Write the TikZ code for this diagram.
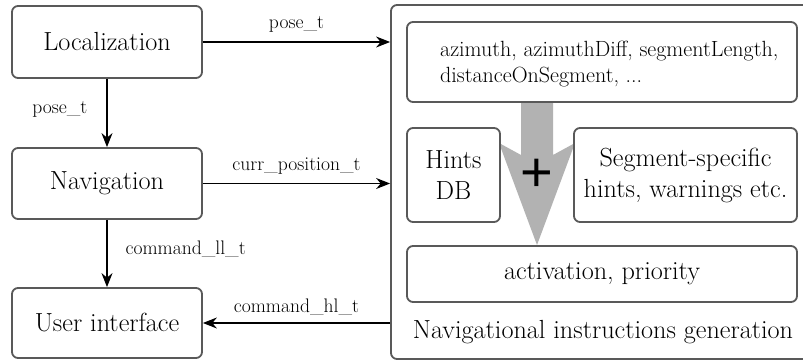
\documentclass[tikz,border=0pt]{standalone}
\usepackage{fontspec}
\newfontfamily\plusfont{Liberation Sans}
\usetikzlibrary{arrows.meta}
\begin{document}
\begin{tikzpicture}[x=1pt,y=-1pt,
 box/.style={draw=black!65, line width=1.8pt, rounded corners=6pt, fill=white, inner sep=0pt, align=center, font=\fontsize{26.2}{31}\selectfont},
 conn/.style={line width=1.2pt, -{Stealth[length=14pt,width=11pt]}},
 lbl/.style={font=\fontsize{19.6}{24}\selectfont, inner sep=0pt},
 attrtxt/.style={font=\fontsize{22}{26}\selectfont, inner sep=0pt, align=left},
 flow/.style={fill=black!30, draw=none}]
\useasboundingbox (0,0) rectangle (803,361);
% left column
\node[box, minimum width=190pt, minimum height=72pt] (loc) at (107,42) {Localization};
\node[box, minimum width=190pt, minimum height=71pt] (nav) at (107,183.5) {Navigation};
\node[box, minimum width=190pt, minimum height=70pt] (ui) at (107,323) {User interface};
% big container
\node[box, minimum width=419pt, minimum height=354pt] (ngen) at (600.5,182) {};
\node[box, draw=none, fill=none, anchor=base] (ngenlbl) at (603,338) {Navigational instructions generation};
% gray flow arrow
\fill[flow] (521,100) -- (553,100) -- (553,155) -- (575,143) -- (537,245) -- (499,143) -- (521,155) -- cycle;
% inner boxes
\node[box, minimum width=390pt, minimum height=80pt] (attr) at (602,62) {};
\node[attrtxt, anchor=west] (attrt) at (440,64) {azimuth, azimuthDiff, segmentLength,\\distanceOnSegment, ...};
\node[box, minimum width=93pt, minimum height=94pt] (hints) at (453.5,175) {Hints\\DB};
\node[box, minimum width=223pt, minimum height=94pt] (seg) at (685.5,175) {Segment-specific\\hints, warnings etc.};
\node[box, minimum width=390pt, minimum height=56pt] (act) at (602,274) {activation, priority};
\node[font=\fontsize{56}{56}\selectfont\plusfont, inner sep=0pt] (plus) at (537,175) {+};
% connectors
\draw[conn] (loc.east) -- node[lbl, above=9pt] {pose\_t} (loc.east -| ngen.west);
\draw[conn] (loc.south) -- node[lbl, left=19pt, yshift=4pt] {pose\_t} (nav.north);
\draw[conn] (nav.east) -- node[lbl, above=8.5pt] {curr\_position\_t} (nav.east -| ngen.west);
\draw[conn] (nav.south) -- node[lbl, right=18pt, yshift=4pt] {command\_ll\_t} (ui.north);
\draw[conn] (ui.east -| ngen.west) -- node[lbl, above=7pt] {command\_hl\_t} (ui.east);
\end{tikzpicture}
\end{document}
